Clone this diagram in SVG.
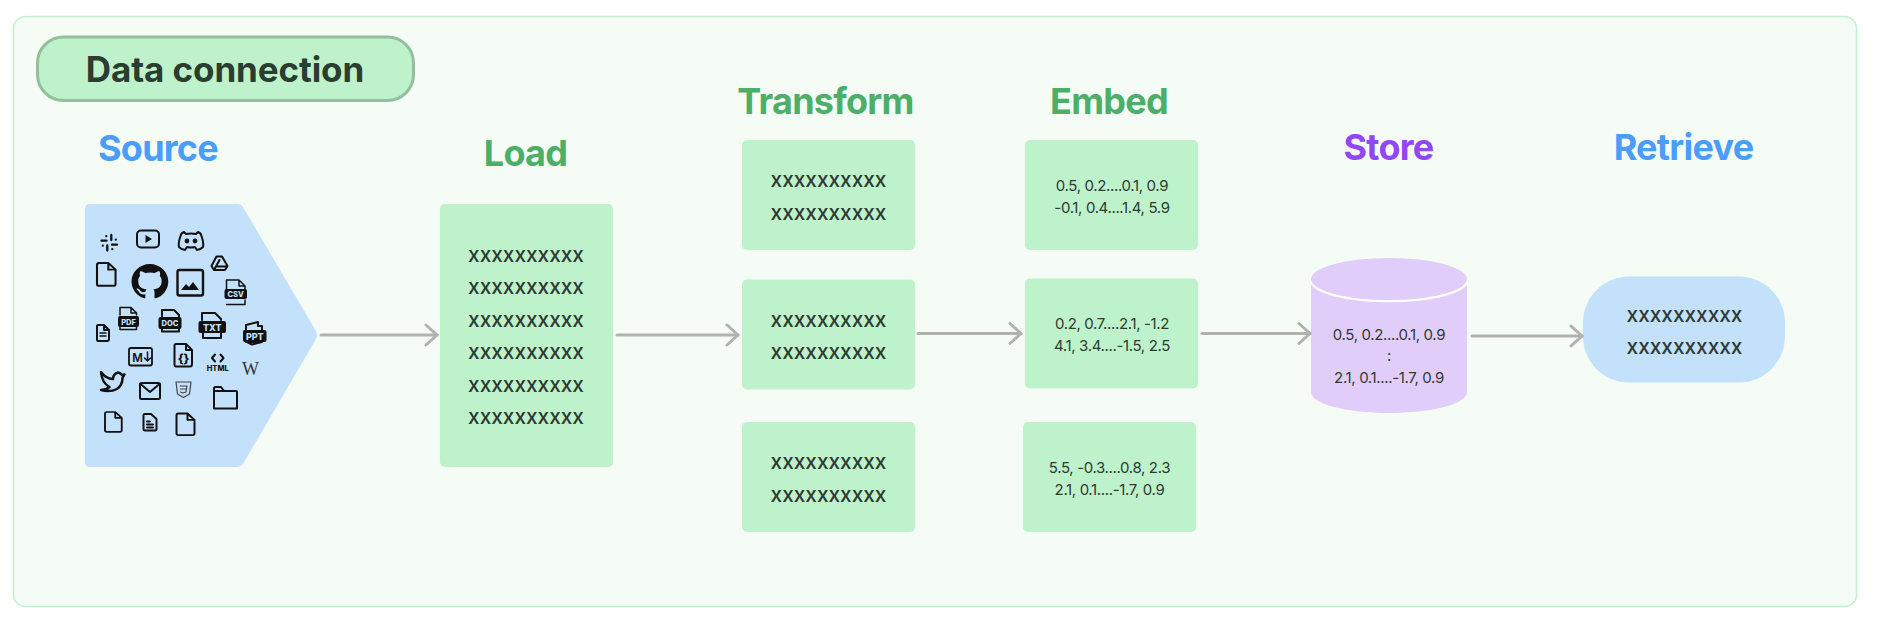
<svg xmlns="http://www.w3.org/2000/svg" width="1878" height="626" viewBox="0 0 1878 626">
<style>
text{font-family:Inter,"Noto Sans","Liberation Sans",sans-serif}
.h{font-size:36px;font-weight:700;letter-spacing:-.75px;text-anchor:middle}
.g{fill:#4caf68}.b{fill:#4b9dfc}.p{fill:#9147f5}
.box{fill:#bdf2cb}
.x{font-size:20.800px;font-weight:500;fill:#2e3a33;text-anchor:middle}
.n{font-size:15px;letter-spacing:-.35px;fill:#2e3a33;text-anchor:middle}
.c{fill:none;stroke:#b1b1b0;stroke-width:3;stroke-linecap:round;stroke-linejoin:round}
.i{fill:none;stroke:#111;stroke-width:2;stroke-linejoin:round;stroke-linecap:round}
.i2{fill:none;stroke:#111;stroke-width:1.500;stroke-linejoin:round;stroke-linecap:round}
.f{fill:#111}
.t{font-size:7.500px;font-weight:800;fill:#c4e1fb;text-anchor:middle}
.t2{font-size:7.500px;font-weight:800;fill:#111;text-anchor:middle}
</style>
<defs>
<marker id="arrow" markerUnits="userSpaceOnUse" markerWidth="18" markerHeight="26" refX="14" refY="12" orient="auto"><path d="M3 2 L14 12 L3 22" fill="none" stroke="#b1b1b0" stroke-width="3" stroke-linecap="round" stroke-linejoin="round"/></marker>
<path id="doc" d="M2 0 H11 L18 7 V22 Q18 24 16 24 H2 Q0 24 0 22 V2 Q0 0 2 0 Z M11 0 V7 H18"/>
</defs>
<rect x="13.500" y="16.500" width="1843" height="590" rx="12" fill="#f5fcf6" stroke="#c0f0cc" stroke-width="1.500"/>
<g id="title">
<rect x="37.500" y="37" width="376" height="63.500" rx="26" fill="#bdf2cb" stroke="#93bf9c" stroke-width="3"/>
<text x="225" y="82" font-size="35" font-weight="700" letter-spacing="-.1" text-anchor="middle" fill="#2b3d31">Data connection</text>
</g>
<g id="source">
<text class="h b" x="158" y="161">Source</text>
<path d="M90 204 H238 Q241 204 243 207 L316 331 Q318 335 316 339 L243 464 Q241 467 238 467 H90 Q85 467 85 462 V209 Q85 204 90 204 Z" fill="#c4e1fb"/>
<g id="icons">
<path id="slack" fill="none" stroke="#111" stroke-width="2.300" stroke-linecap="round" d="M101.500 240.700 H106.500 M106.300 236.200 V236.200 M111.300 235 V240 M115.800 239.700 H115.800 M112 244.700 H117 M112.300 249.200 V249.200 M107.300 245.500 V250.500 M102.800 245.700 H102.800"/>
<g id="youtube"><rect class="i" x="137" y="230.500" width="22" height="17" rx="4"/><path class="f" d="M145.500 235 L152 239 L145.500 243 Z"/></g>
<g id="discord"><path class="i" d="M184 232 Q181 233 180.500 236 Q178 243 179 247 Q182 250 185 250 L187 247 Q191 248 195 247 L197 250 Q200 250 203 247 Q204 243 201.500 236 Q201 233 198 232 L196 234 Q191 233 186 234 Z"/><circle class="f" cx="187" cy="241" r="2.400"/><circle class="f" cx="195" cy="241" r="2.400"/></g>
<g id="gdrive"><path class="i" d="M216.500 256.500 H222 L227.500 266 L225 270 H214 L211.500 266 Z M219.500 260 L216 266.500 H227 M214 270 L219.500 260"/></g>
<use href="#doc" class="i" transform="translate(97 263) scale(1.030 .95)"/>
<path id="github" class="f" transform="translate(131.500 264) scale(2.300 2.200)" d="M8 0C3.580 0 0 3.580 0 8c0 3.540 2.290 6.530 5.470 7.590.4.070.55-.17.55-.38 0-.19-.01-.82-.01-1.490-2.010.37-2.530-.49-2.690-.94-.09-.23-.48-.94-.82-1.130-.28-.15-.68-.52-.01-.53.63-.01 1.080.58 1.230.82.72 1.210 1.870.87 2.330.66.07-.52.28-.87.51-1.070-1.780-.2-3.640-.89-3.640-3.950 0-.87.31-1.590.82-2.150-.08-.2-.36-1.020.08-2.120 0 0 .67-.21 2.200.82.64-.18 1.320-.27 2-.27.68 0 1.360.09 2 .27 1.530-1.040 2.200-.82 2.200-.82.44 1.100.16 1.920.08 2.120.51.56.82 1.270.82 2.150 0 3.070-1.870 3.750-3.650 3.950.29.25.54.73.54 1.480 0 1.070-.01 1.930-.01 2.200 0 .21.15.46.55.38A8.013 8.013 0 0016 8c0-4.420-3.580-8-8-8z"/>
<g id="image"><rect x="177.500" y="270" width="25.500" height="25.500" rx="2" fill="none" stroke="#111" stroke-width="2.400"/><path class="f" d="M181 290 L186 284 L189 287 L193 282 L199 290 Z"/></g>
<g id="csv"><path class="i2" d="M226.500 296 V280 H239 L245 286 V293 M226.500 304.500 H245 V300 M239 280 V286 H245"/><rect class="f" x="224.500" y="289" width="22.500" height="10" rx="2"/><text class="t" x="235.700" y="297">CSV</text></g>
<g id="pdf"><path class="i2" d="M120 315 V307.500 H131 L136.500 313 V315 M131 307.500 V313 H136.500 M120 327 V329.500 H136.500 V327"/><rect class="f" x="118" y="316" width="21" height="11" rx="2"/><text class="t" x="128.500" y="324.500">PDF</text></g>
<g id="docf"><path class="i" d="M162 317 V310 H174 L179 315 V317 M162 329 V331.500 H179 V329"/><rect class="f" x="158.500" y="317" width="23" height="12" rx="2"/><text class="t" x="170" y="326">DOC</text></g>
<g id="txt"><path class="i" d="M202 320 V313 H215 L221 319 V320 M203 333 V338 H221 V333"/><rect class="f" x="198.500" y="321" width="27.500" height="12" rx="2"/><text class="t" x="212.300" y="330.500" style="font-size:9px">TXT</text></g>
<g id="ppt"><path class="i" d="M246 330 V325 L258 322 V326 H262 V330 M246 342 H262 L252 344.500 L247 342"/><rect class="f" x="243" y="330" width="23.500" height="12" rx="2"/><text class="t" x="254.800" y="339.500" style="font-size:9px">PPT</text></g>
<g id="sdoc"><path class="i" d="M97 326 Q97 325 98 325 H104 L109 330 V339 Q109 341 107 341 H98 Q97 341 97 339 Z M104 325 V330 H109"/><path class="i2" d="M100 333 H106 M100 336 H106"/></g>
<g id="md"><rect class="i2" x="129" y="348" width="23" height="17.500" rx="2" style="stroke-width:1.800"/><text x="137.500" y="361.500" font-size="11.500" font-weight="600" fill="#111" text-anchor="middle">M</text><path class="i2" d="M147.500 352 V361 M144.500 358 L147.500 361 L150.500 358"/></g>
<g id="jsonf"><path class="i" d="M176 344 H186 L192 350 V364 Q192 366.500 190 366.500 H176 Q174.500 366.500 174.500 364 V346 Q174.500 344 176 344 Z M186 344 V350 H192"/><text x="183.500" y="363" font-size="12" font-weight="800" fill="#111" text-anchor="middle">{}</text></g>
<g id="html"><path class="i" d="M215 354.500 L212 358 L215 361.500 M220.500 354.500 L223.500 358 L220.500 361.500"/><text class="t2" x="217.700" y="371">HTML</text></g>
<text id="wiki" x="250.500" y="375" font-size="18" fill="#333" text-anchor="middle" style="font-family:'Liberation Serif',serif">W</text>
<path id="twitter" class="i" d="M101 372 Q106 379 113 379 Q113 374 118 372.500 Q120.500 373 122 375 L124.500 374.500 L122.500 378 Q122.500 385 117 389 Q110 392.500 101 390 Q106 390 109.500 387 Q102 383 101 372 Z" style="stroke-width:2.500"/>
<g id="mail"><rect class="i" x="140" y="383" width="20" height="16" rx="1.500"/><path class="i" d="M140.500 384 L150 392 L159.500 384"/></g>
<g id="css"><path class="i2" d="M176 382 H191 L189.500 394 L183.500 397.500 L177.500 394 Z M180 386 H187 L186 392 L183 393 L180.500 392 M180.500 389 H186" style="stroke:#444;stroke-width:1.200"/></g>
<path id="folder" class="i" d="M214 388.500 Q214 387 215.500 387 H221 L224 391 H236 Q237 391 237 392 V408.500 H214 Z M214 391 H224"/>
<use href="#doc" class="i" transform="translate(105 412) scale(.93 .83)"/>
<g id="ldoc"><path class="i" d="M143.500 415 Q143.500 414 145 414 H151 L156.500 419 V429 Q156.500 430.500 155 430.500 H145 Q143.500 430.500 143.500 429 Z"/><path class="i" d="M147 421.500 H150 M147 424.500 H153 M147 427.500 H153"/></g>
<use href="#doc" class="i" transform="translate(176.500 413.500) scale(1 .9)"/>
</g>
</g>
<g id="load">
<text class="h g" x="525.500" y="165.500">Load</text>
<rect class="box" x="440" y="204" width="173" height="263" rx="5"/>
<text class="x" x="526" y="262">xxxxxxxxxx</text><text class="x" x="526" y="294.400">xxxxxxxxxx</text><text class="x" x="526" y="326.800">xxxxxxxxxx</text><text class="x" x="526" y="359.200">xxxxxxxxxx</text><text class="x" x="526" y="391.600">xxxxxxxxxx</text><text class="x" x="526" y="424">xxxxxxxxxx</text>
</g>
<g id="transform">
<text class="h g" x="825.500" y="113.500">Transform</text>
<rect class="box" x="742" y="140" width="173" height="110" rx="5"/>
<text class="x" x="828.500" y="187">xxxxxxxxxx</text><text class="x" x="828.500" y="220">xxxxxxxxxx</text>
<rect class="box" x="742" y="279.500" width="173" height="110" rx="5"/>
<text class="x" x="828.500" y="327">xxxxxxxxxx</text><text class="x" x="828.500" y="359">xxxxxxxxxx</text>
<rect class="box" x="742" y="422" width="173" height="110" rx="5"/>
<text class="x" x="828.500" y="468.500">xxxxxxxxxx</text><text class="x" x="828.500" y="502">xxxxxxxxxx</text>
</g>
<g id="embed">
<text class="h g" x="1109" y="113.500">Embed</text>
<rect class="box" x="1025" y="140" width="173" height="110" rx="5"/>
<text class="n" x="1112" y="191">0.5, 0.2....0.1, 0.9</text><text class="n" x="1112" y="213">-0.1, 0.4....1.4, 5.9</text>
<rect class="box" x="1025" y="278.500" width="173" height="110" rx="5"/>
<text class="n" x="1112" y="329">0.2, 0.7....2.1, -1.2</text><text class="n" x="1112" y="351">4.1, 3.4....-1.5, 2.5</text>
<rect class="box" x="1023" y="422" width="173" height="110" rx="5"/>
<text class="n" x="1109.500" y="473">5.5, -0.3....0.8, 2.3</text><text class="n" x="1109.500" y="495">2.1, 0.1....-1.7, 0.9</text>
</g>
<g id="store">
<text class="h p" x="1388.500" y="160">Store</text>
<path d="M1311 279 V392 C1311 404 1346 413 1389 413 C1432 413 1467 404 1467 392 V279 Z" fill="#e1cdfa"/>
<path d="M1311 279 C1311 291 1346 300 1389 300 C1432 300 1467 291 1467 279" fill="none" stroke="#fff" stroke-width="2.500" transform="translate(0,1)"/>
<ellipse cx="1389" cy="279" rx="78" ry="21" fill="#e1cdfa"/>
<text class="n" x="1389" y="339.500">0.5, 0.2....0.1, 0.9</text><text class="n" x="1389" y="361">:</text><text class="n" x="1389" y="383">2.1, 0.1....-1.7, 0.9</text>
</g>
<g id="retrieve">
<text class="h b" x="1683.500" y="160">Retrieve</text>
<rect x="1583" y="276.500" width="202" height="106" rx="46" fill="#c4e1fb"/>
<text class="x" x="1684.500" y="322">xxxxxxxxxx</text><text class="x" x="1684.500" y="354">xxxxxxxxxx</text>
</g>
<g id="connectors">
<path class="c" marker-end="url(#arrow)" d="M321 335 H437"/>
<path class="c" marker-end="url(#arrow)" d="M617 335 H738"/>
<path class="c" marker-end="url(#arrow)" d="M918 333.500 H1021"/>
<path class="c" marker-end="url(#arrow)" d="M1202 333.500 H1310"/>
<path class="c" marker-end="url(#arrow)" d="M1472 336 H1582"/>
</g>
</svg>
